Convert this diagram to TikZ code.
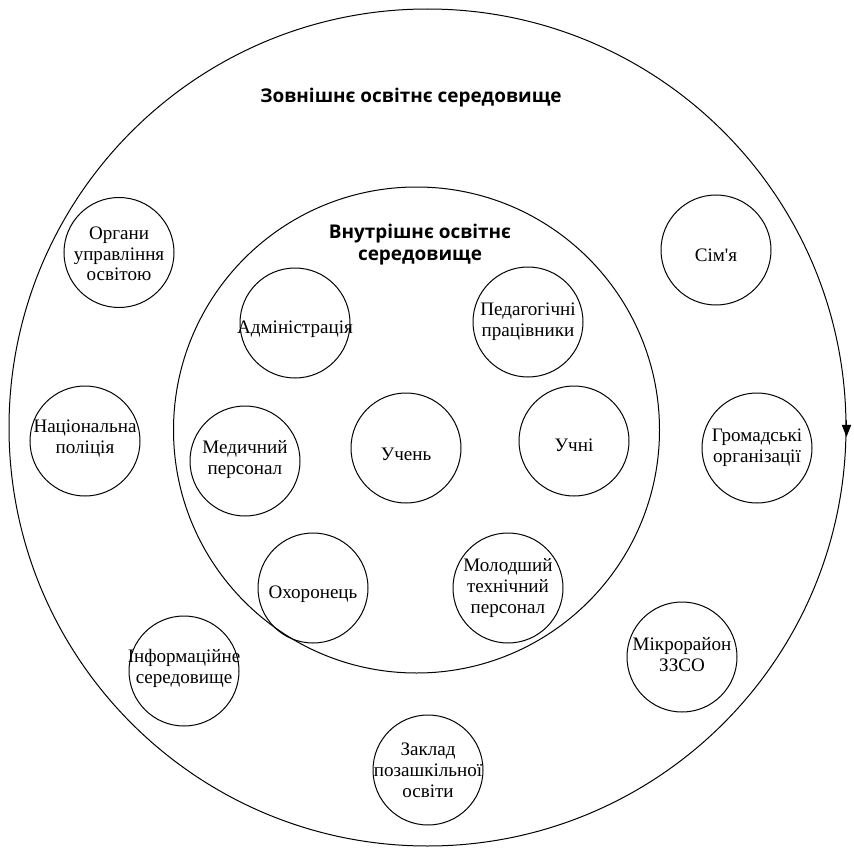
\documentclass[tikz,border=0pt]{standalone}
\usepackage{fontspec}
\setmainfont{Liberation Serif}
\newfontfamily\titlefont{Open Sans}
\usetikzlibrary{arrows.meta}

\tikzset{every picture/.style={line width=0.75pt}}
\tikzset{
  ring/.style={draw, circle, minimum size=#1, inner sep=0pt},
  ring/.default=82.5,
  lbl/.style={align=center, inner sep=0.75pt, font=\fontsize{14.3}{15.6}\selectfont},
  ttl/.style={align=center, inner sep=0.75pt, font=\titlefont\bfseries\fontsize{14.2}{16.5}\selectfont}
}

\begin{document}
\begin{tikzpicture}[x=0.75pt,y=0.75pt,yscale=-1,xscale=1]
    \useasboundingbox (0,0) rectangle (854,849);

    % Outer and inner environments
    \node [ring=627.75] (outer) at (427.5,427.5) {};
    \node [ring=364.5] (inner) at (416.5,430) {};
    \coordinate (arrowtip) at ([yshift=7pt]outer.east);
    \draw [-{Triangle[length=9pt,width=7pt]}] ([yshift=-6pt]outer.east) -- (arrowtip);

    % Titles
    \node [ttl] (tout) at (411,98) {Зовнішнє освітнє середовище};
    \node [ttl] (tin) at (420,245) {Внутрішнє освітнє\\середовище};

    % External circles
    \node [ring] (organy) at (119,252.5) {};
    \node [lbl] (organyt) at ([yshift=1pt]organy) {Органи\\управління\\освітою};
    \node [ring] (police) at (85,441) {};
    \node [lbl] (policet) at ([yshift=-2pt]police) {Національна\\поліція};
    \node [ring] (info) at (184,671) {};
    \node [lbl] (infot) at ([yshift=-2pt]info) {Інформаційне\\середовище};
    \node [ring] (zaklad) at (428,770) {};
    \node [lbl] (zakladt) at (zaklad) {Заклад\\позашкільної\\освіти};
    \node [ring] (mikro) at (682,657) {};
    \node [lbl] (mikrot) at ([yshift=-2pt]mikro) {Мікрорайон\\ЗЗСО};
    \node [ring] (gromada) at (757,448) {};
    \node [lbl] (gromadat) at (gromada) {Громадські\\організації};
    \node [ring] (simya) at (716,250) {};
    \node [lbl] (simyat) at ([yshift=4pt]simya) {Сім\textquotesingle я};

    % Internal circles
    \node [ring] (admin) at (295,323) {};
    \node [lbl] (admint) at ([yshift=5pt]admin) {Адміністрація};
    \node [ring] (pedag) at (528,322) {};
    \node [lbl] (pedagt) at (pedag) {Педагогічні\\працівники};
    \node [ring] (medic) at (245,461) {};
    \node [lbl] (medict) at ([yshift=-1pt]medic) {Медичний\\персонал};
    \node [ring] (uchen) at (406,448) {};
    \node [lbl] (uchent) at ([yshift=5pt]uchen) {Учень};
    \node [ring] (uchni) at (574,441) {};
    \node [lbl] (uchnit) at ([yshift=3pt]uchni) {Учні};
    \node [ring] (okhor) at (313,588) {};
    \node [lbl] (okhort) at ([yshift=5pt]okhor) {Охоронець};
    \node [ring] (molod) at (508,588) {};
    \node [lbl] (molodt) at (molod) {Молодший\\технічний\\персонал};

\end{tikzpicture}
\end{document}
